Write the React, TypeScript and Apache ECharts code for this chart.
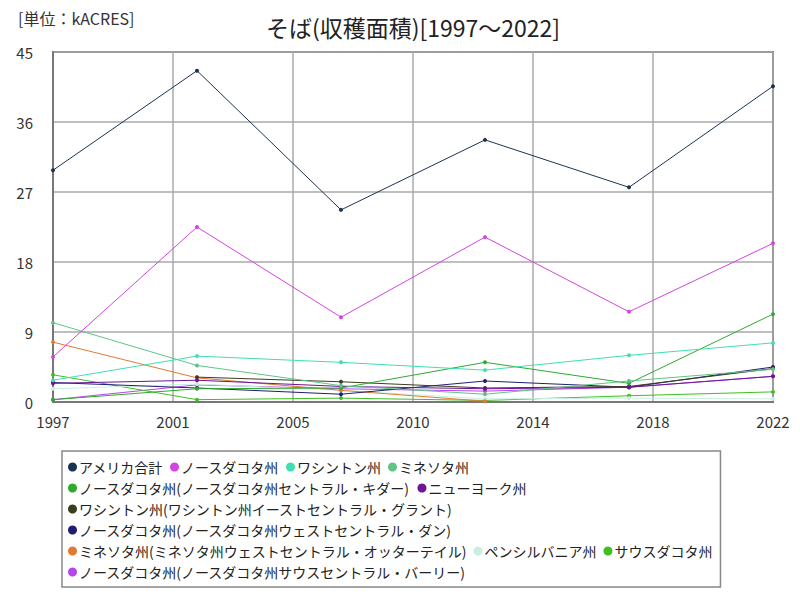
import React, { useEffect, useRef } from "react";
import * as echarts from "echarts";

const years = [1997, 2002, 2007, 2012, 2017, 2022];
const startYear = 1997;
const endYear = 2022;

const seriesNames = [
  "アメリカ合計",
  "ノースダコタ州",
  "ワシントン州",
  "ミネソタ州",
  "ノースダコタ州(ノースダコタ州セントラル・キダー)",
  "ニューヨーク州",
  "ワシントン州(ワシントン州イーストセントラル・グラント)",
  "ノースダコタ州(ノースダコタ州ウェストセントラル・ダン)",
  "ミネソタ州(ミネソタ州ウェストセントラル・オッターテイル)",
  "ペンシルバニア州",
  "サウスダコタ州",
  "ノースダコタ州(ノースダコタ州サウスセントラル・バーリー)",
];

const usTotal = [29.8, 42.6, 24.7, 33.7, 27.6, 40.6];
const northDakota = [5.8, 22.5, 10.9, 21.2, 11.6, 20.4];
const washington = [2.8, 5.9, 5.1, 4.1, 6.0, 7.6];
const minnesota = [10.2, 4.7, 2.1, 1.0, 2.7, 4.2];
const kidder = [0.3, 1.7, 1.8, 5.1, 2.4, 11.3];
const newYork = [2.4, 2.8, 2.0, 1.7, 1.9, 3.3];
const grant = [null, 3.2, 2.6, 1.8, 2.0, 4.3];
const dunn = [2.5, 1.8, 1.0, 2.7, 1.9, 4.5];
const otterTail = [7.7, 3.1, 1.5, 0.1, null, null];
const pennsylvania = [1.7, 2.3, 1.5, 0.4, 0.5, 0.4];
const southDakota = [3.5, 0.3, 0.5, 0.2, 0.8, 1.3];
const barnes = [0.3, 2.2, 1.7, 1.4, 1.9, 3.3];

const seriesValues = [
  usTotal,
  northDakota,
  washington,
  minnesota,
  kidder,
  newYork,
  grant,
  dunn,
  otterTail,
  pennsylvania,
  southDakota,
  barnes,
];

const colors = [
  "#1b3352",
  "#d245e0",
  "#3ee0b2",
  "#5fc487",
  "#2eab2e",
  "#6f1496",
  "#3d3d1f",
  "#1f1f72",
  "#e07a32",
  "#c9efe0",
  "#3fbf22",
  "#b547ea",
];

const yTicks = [0, 9, 18, 27, 36, 45];

const FONT = "'Noto Sans CJK JP', 'Noto Sans', sans-serif";

export default function App() {
  const ref = useRef<HTMLDivElement>(null);
  useEffect(() => {
    if (!ref.current) return;
    const chart = echarts.init(ref.current, null, { renderer: "svg" });
    const span = endYear - startYear;
    chart.setOption({
      animation: false,
      color: colors,
      textStyle: { fontFamily: FONT },
      graphic: [
        {
          type: "text",
          x: 413,
          y: 27,
          style: {
            text: "そば(収穫面積)[1997～2022]",
            fontSize: 23,
            fill: "#222",
            fontFamily: FONT,
            align: "center",
            verticalAlign: "middle",
          },
        },
        {
          type: "text",
          x: 18,
          y: 18,
          style: {
            text: "[単位：kACRES]",
            fontSize: 16,
            fill: "#333",
            fontFamily: FONT,
            verticalAlign: "middle",
          },
        },
      ],
      grid: {
        left: 53,
        right: 27,
        top: 52,
        bottom: 198,
        show: true,
        borderColor: "#777",
        borderWidth: 2,
        containLabel: false,
      },
      legend: {
        left: 62,
        top: 451,
        width: 668,
        padding: [9, 8, 8, 6],
        borderColor: "#888",
        borderWidth: 1.5,
        icon: "circle",
        itemWidth: 9,
        itemHeight: 9,
        itemGap: 7,
        textStyle: { fontSize: 14, color: "#222", fontFamily: FONT, padding: [0, 0, 0, -3] },
        data: seriesNames,
      },
      xAxis: {
        type: "value",
        min: 0,
        max: span,
        interval: span / 6,
        axisLine: { show: true, lineStyle: { color: "#777", width: 2 } },
        axisTick: { show: false },
        splitLine: { show: true, lineStyle: { color: "#aaa", width: 1.5 } },
        axisLabel: {
          fontSize: 15,
          color: "#333",
          margin: 12,
          formatter: (v: number) => String(Math.round(startYear + v)),
        },
      },
      yAxis: {
        type: "value",
        min: yTicks[0],
        max: yTicks[yTicks.length - 1],
        interval: yTicks[1] - yTicks[0],
        axisLine: { show: true, lineStyle: { color: "#777", width: 2 } },
        axisTick: { show: false },
        splitLine: { show: true, lineStyle: { color: "#aaa", width: 1.5 } },
        axisLabel: { fontSize: 15, color: "#333", margin: 20 },
      },
      series: seriesNames.map((name, i) => ({
        name,
        type: "line",
        data: seriesValues[i].map((v, j) => [years[j] - startYear, v]),
        symbol: "circle",
        symbolSize: 4,
        showSymbol: true,
        connectNulls: false,
        lineStyle: { width: 1, color: colors[i] },
        itemStyle: { color: colors[i] },
        z: 20 - i,
      })),
    });
    return () => chart.dispose();
  }, []);
  return <div ref={ref} style={{ width: 800, height: 600, margin: -8 }} />;
}
